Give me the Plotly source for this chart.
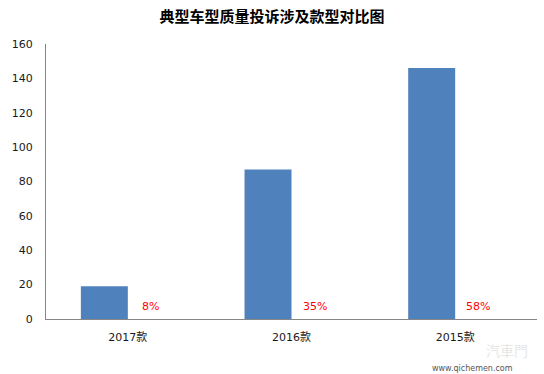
import plotly.graph_objects as go

categories = ["2017款", "2016款", "2015款"]
complaints = [19, 87, 146]
share_labels = ["8%", "35%", "58%"]
y_ticks = [0, 20, 40, 60, 80, 100, 120, 140, 160]

fig = go.Figure()
fig.add_trace(go.Bar(
    x=categories, y=complaints,
    marker=dict(color="#4f81bd", line=dict(width=0)),
    width=0.287, offset=-0.287,
    showlegend=False, hoverinfo="x+y",
))

for c, s in zip(categories, share_labels):
    fig.add_annotation(x=c, y=7.5, text=s, showarrow=False, xshift=23,
                       font=dict(color="#ff0000", size=11, family="DejaVu Sans"))

# watermark (bottom-right)
fig.add_annotation(xref="paper", yref="paper", x=0.985, y=-0.112, text="汽車門",
                   showarrow=False, xanchor="right", yanchor="middle",
                   font=dict(color="#e6e6e6", size=14, family="Noto Sans CJK TC"))
fig.add_annotation(xref="paper", yref="paper", x=0.955, y=-0.18, text="www.qichemen.com",
                   showarrow=False, xanchor="right", yanchor="middle",
                   font=dict(color="#555555", size=8, family="DejaVu Sans"))

fig.update_layout(
    width=544, height=374,
    margin=dict(l=46, r=7, t=44, b=55),
    paper_bgcolor="white", plot_bgcolor="white",
    title=dict(text="<b>典型车型质量投诉涉及款型对比图</b>", x=0.5, xanchor="center",
               y=0.955, yanchor="middle",
               font=dict(size=15, color="#000000", family="Noto Sans CJK SC")),
    xaxis=dict(type="category", showline=True, linecolor="#868686", linewidth=1,
               ticks="", showgrid=False, zeroline=False, ticklabelstandoff=8,
               tickfont=dict(size=11, color="#1a1a1a", family="DejaVu Sans, Noto Sans CJK SC")),
    yaxis=dict(range=[0, 160], tickvals=y_ticks, showline=True, linecolor="#868686",
               linewidth=1, ticks="", showgrid=False, zeroline=False,
               ticklabelstandoff=10,
               tickfont=dict(size=11, color="#1a1a1a", family="DejaVu Sans")),
)

fig.write_html("out.html", config={"displayModeBar": False},
               post_script="document.body.style.margin='0';")
